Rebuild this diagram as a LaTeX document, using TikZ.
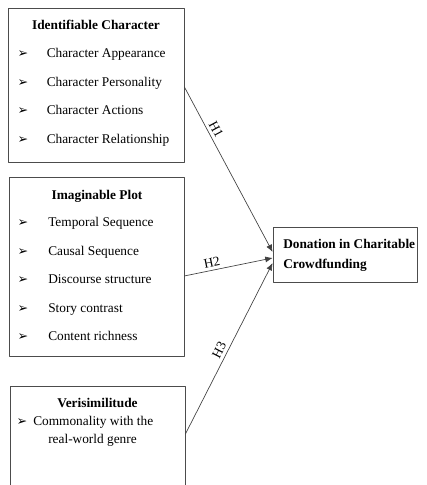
\documentclass[tikz,border=0pt]{standalone}
\usepackage{fontspec}
\usetikzlibrary{arrows.meta}
\setmainfont{Liberation Serif}
\newfontfamily\symfont{DejaVu Sans}
\begin{document}
\begin{tikzpicture}[line cap=round,line join=round,>={Latex[length=5.5pt,width=4.5pt]},x=0.75pt,y=-0.75pt,
	box/.style={draw=black!70,line width=0.6pt,inner sep=0pt},
	item/.style={anchor=base west,inner sep=0pt,font=\fontsize{10}{12}\selectfont},
	head/.style={anchor=base,inner sep=0pt,font=\fontsize{10}{12}\selectfont\bfseries},
	bul/.style={anchor=base,inner sep=0pt,font=\symfont\fontsize{9.5}{10}\selectfont},
	hyp/.style={draw=black!75,line width=0.5pt,->},
	hlabel/.style={sloped,above,inner sep=2.5pt,font=\fontsize{10}{12}\selectfont}]
	\useasboundingbox (0,0) rectangle (426,485);
	% boxes
	\node[box,minimum width=132pt,minimum height=115.5pt] (ic) at (96,85) {};
	\node[box,minimum width=131.25pt,minimum height=134.25pt] (ip) at (96.5,266.5) {};
	\node[box,minimum width=131.25pt,minimum height=76.5pt] (vs) at (97.5,437) {};
	\node[box,minimum width=108pt,minimum height=41.25pt] (don) at (345,254.5) {};
	% texts
	\node[head] (icT) at (96,29.5) {Identifiable Character};
	\foreach \t [count=\i] in {Character Appearance,Character Personality,Character Actions,Character Relationship}{
		\node[bul] (icB\i) at (23,{57.5+28.5*(\i-1)}) {➢};
		\node[item] (icI\i) at (46.5,{57.5+28.5*(\i-1)}) {\t};
	}
	\node[head] (ipT) at (97,199.5) {Imaginable Plot};
	\foreach \t [count=\i] in {Temporal Sequence,Causal Sequence,Discourse structure,Story contrast,Content richness}{
		\node[bul] (ipB\i) at (23,{226.5+28.5*(\i-1)}) {➢};
		\node[item] (ipI\i) at (48,{226.5+28.5*(\i-1)}) {\t};
	}
	\node[head] (vsT) at (97.5,407.5) {Verisimilitude};
	\node[bul] (vsB1) at (22,425.5) {➢};
	\node[item] (vsI1) at (33,425.5) {Commonality with the};
	\node[item] (vsI2) at (48,443.5) {real-world genre};
	\node[item,font=\fontsize{10}{12}\selectfont\bfseries] (donA) at (283,248.5) {Donation in Charitable};
	\node[item,font=\fontsize{10}{12}\selectfont\bfseries] (donB) at (283,268.5) {Crowdfunding};
	% hypotheses
	\draw[hyp] ([yshift=-1.5pt]ic.east) -- node[hlabel,pos=0.28]{H1} ([yshift=1.9pt]don.west);
	\draw[hyp] ([yshift=-7.1pt]ip.east) -- node[hlabel,pos=0.33]{H2} ([yshift=-2.6pt]don.west);
	\draw[hyp] ([yshift=2.25pt]vs.east) -- node[hlabel,pos=0.47]{H3} ([yshift=-6.4pt]don.west);
\end{tikzpicture}
\end{document}
